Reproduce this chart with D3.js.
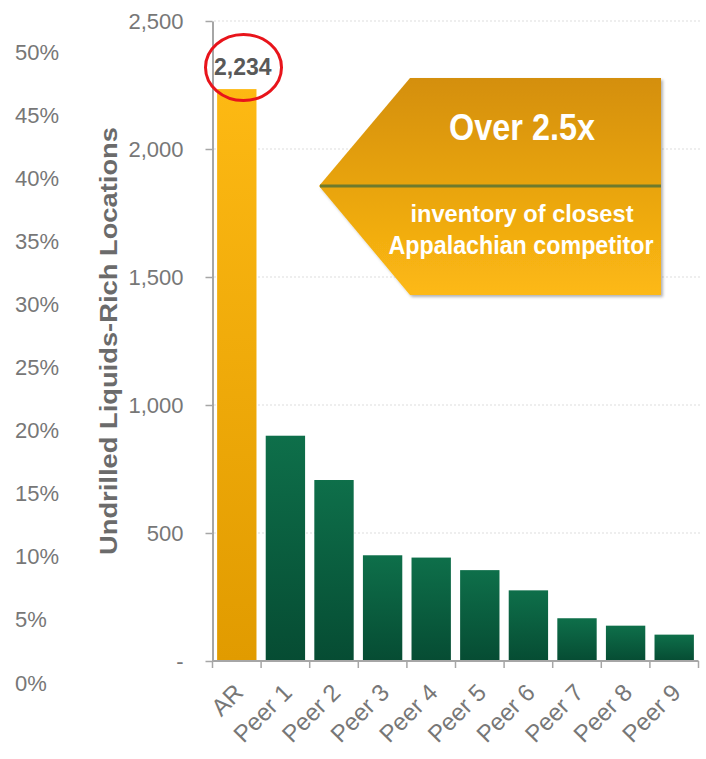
<!DOCTYPE html>
<html>
<head>
<meta charset="utf-8">
<script src="https://cdn.jsdelivr.net/npm/d3@7/dist/d3.min.js"></script>
<style>
  html, body { margin: 0; padding: 0; background: #ffffff; }
  svg { display: block; }
  text { font-family: "Liberation Sans", Arial, sans-serif; }
</style>
</head>
<body>
<svg id="chart" width="706" height="759"></svg>
<script>
// ---- data ----
const categories = ["AR", "Peer 1", "Peer 2", "Peer 3", "Peer 4", "Peer 5", "Peer 6", "Peer 7", "Peer 8", "Peer 9"];
const locations = [2234, 880, 707, 413, 404, 355, 276, 167, 138, 103];
const yTicks = [0, 500, 1000, 1500, 2000, 2500];
const pctTicks = [0, 0.05, 0.10, 0.15, 0.20, 0.25, 0.30, 0.35, 0.40, 0.45, 0.50];
const yTitle = "Undrilled Liquids-Rich Locations";
const highlightLabel = "2,234";
const calloutTitle = "Over 2.5x";
const calloutLines = ["inventory of closest", "Appalachian competitor"];

const svg = d3.select("#chart");
const defs = svg.append("defs");

function vGrad(id, top, bottom) {
  const g = defs.append("linearGradient").attr("id", id)
    .attr("x1", 0).attr("y1", 0).attr("x2", 0).attr("y2", 1);
  g.append("stop").attr("offset", "0%").attr("stop-color", top);
  g.append("stop").attr("offset", "100%").attr("stop-color", bottom);
}
vGrad("gOrange", "#FDB913", "#E19B00");
vGrad("gGreen", "#0E6F4A", "#064C33");
vGrad("gCallout", "#D48F0B", "#FDB913");

const shadow = defs.append("filter").attr("id", "shadow")
  .attr("x", "-10%").attr("y", "-10%").attr("width", "130%").attr("height", "130%");
shadow.append("feDropShadow").attr("dx", 2).attr("dy", 2).attr("stdDeviation", 1.5)
  .attr("flood-color", "#000").attr("flood-opacity", 0.3);

// ---- scales ----
const x = d3.scaleBand().domain(categories).range([212.5, 698.5])
  .paddingInner(0.19).paddingOuter(0.095);
const y = d3.scaleLinear().domain([0, 2500]).range([661, 21]);
const yPct = d3.scaleLinear().domain([0, 0.5]).range([683, 52.5]);

// ---- gridlines ----
svg.append("g").selectAll("line").data(yTicks.filter(d => d > 0)).join("line")
  .attr("x1", 214).attr("x2", 700)
  .attr("y1", d => y(d)).attr("y2", d => y(d))
  .attr("stroke", "#dddddd").attr("stroke-width", 1).attr("stroke-dasharray", "2,2");

// ---- bars ----
svg.append("g").selectAll("rect").data(categories).join("rect")
  .attr("x", d => x(d))
  .attr("width", x.bandwidth())
  .attr("y", (d, i) => y(locations[i]))
  .attr("height", (d, i) => y(0) - y(locations[i]))
  .attr("fill", (d, i) => i === 0 ? "url(#gOrange)" : "url(#gGreen)");

// ---- y axis ----
const yAxis = svg.append("g").attr("transform", "translate(212.5,0)")
  .call(d3.axisLeft(y).tickValues(yTicks).tickSize(7).tickSizeOuter(0).tickPadding(22)
    .tickFormat(d => d === 0 ? "-" : d3.format(",")(d)));
yAxis.select(".domain").attr("stroke", "#a6a6a6").attr("stroke-width", 2);
yAxis.selectAll(".tick line").attr("stroke", "#a6a6a6").attr("stroke-width", 1.5);
yAxis.selectAll(".tick text").attr("fill", "#777777")
  .style("font-size", "22px").style("font-family", "'Liberation Sans', Arial, sans-serif");

// ---- percent axis (labels only) ----
const pAxis = svg.append("g").attr("transform", "translate(15,0)")
  .call(d3.axisRight(yPct).tickValues(pctTicks).tickSize(0).tickPadding(0)
    .tickFormat(d3.format(".0%")));
pAxis.select(".domain").remove();
pAxis.selectAll(".tick text").attr("fill", "#777777")
  .style("font-size", "22px").style("font-family", "'Liberation Sans', Arial, sans-serif");

// ---- x axis ----
const xAxisG = svg.append("g");
xAxisG.append("line").attr("x1", x.range()[0]).attr("x2", x.range()[1])
  .attr("y1", y(0)).attr("y2", y(0)).attr("stroke", "#a6a6a6").attr("stroke-width", 2);
const boundaries = categories.map(d => x(d) - x.step() * x.paddingInner() / 2).concat([x.range()[1]]);
xAxisG.selectAll("line.tk").data(boundaries).join("line").attr("class", "tk")
  .attr("x1", d => d).attr("x2", d => d)
  .attr("y1", y(0)).attr("y2", y(0) + 7)
  .attr("stroke", "#a6a6a6").attr("stroke-width", 1.5);
xAxisG.selectAll("text").data(categories).join("text")
  .attr("transform", d => `translate(${x(d) + x.bandwidth() / 2 + 8},${y(0) + 33}) rotate(-45)`)
  .attr("text-anchor", "end")
  .attr("fill", "#777777")
  .style("font-size", "24px")
  .text(d => d);

// ---- y title ----
svg.append("text")
  .attr("transform", `translate(117,${(y(0) + y(2500)) / 2}) rotate(-90)`)
  .attr("text-anchor", "middle")
  .attr("fill", "#6b6b6b")
  .style("font-size", "24px").style("font-weight", "bold")
  .attr("textLength", 428).attr("lengthAdjust", "spacingAndGlyphs")
  .text(yTitle);

// ---- highlight label + ellipse ----
const arCx = x("AR") + x.bandwidth() / 2 + 6;
svg.append("text")
  .attr("x", arCx).attr("y", 75)
  .attr("text-anchor", "middle")
  .attr("fill", "#595959")
  .style("font-size", "23px").style("font-weight", "bold")
  .text(highlightLabel);
svg.append("ellipse")
  .attr("cx", 243.5).attr("cy", 67.5).attr("rx", 38).attr("ry", 33)
  .attr("fill", "none").attr("stroke", "#E8141B").attr("stroke-width", 3);

// ---- callout ----
const co = svg.append("g");
co.append("polygon")
  .attr("points", "319,186 410,78 661,78 661,295 410,295")
  .attr("fill", "url(#gCallout)")
  .attr("filter", "url(#shadow)");
co.append("line").attr("x1", 320).attr("x2", 661).attr("y1", 186).attr("y2", 186)
  .attr("stroke", "#6E7A2C").attr("stroke-width", 3);
co.append("text").attr("x", 522).attr("y", 140).attr("text-anchor", "middle")
  .attr("fill", "#ffffff").style("font-size", "36px").style("font-weight", "bold")
  .attr("textLength", 146).attr("lengthAdjust", "spacingAndGlyphs")
  .text(calloutTitle);
co.append("text").attr("x", 522).attr("y", 222).attr("text-anchor", "middle")
  .attr("fill", "#ffffff").style("font-size", "24px").style("font-weight", "bold")
  .attr("textLength", 223).attr("lengthAdjust", "spacingAndGlyphs")
  .text(calloutLines[0]);
co.append("text").attr("x", 521).attr("y", 254).attr("text-anchor", "middle")
  .attr("fill", "#ffffff").style("font-size", "25px").style("font-weight", "bold")
  .attr("textLength", 265).attr("lengthAdjust", "spacingAndGlyphs")
  .text(calloutLines[1]);
</script>
</body>
</html>
